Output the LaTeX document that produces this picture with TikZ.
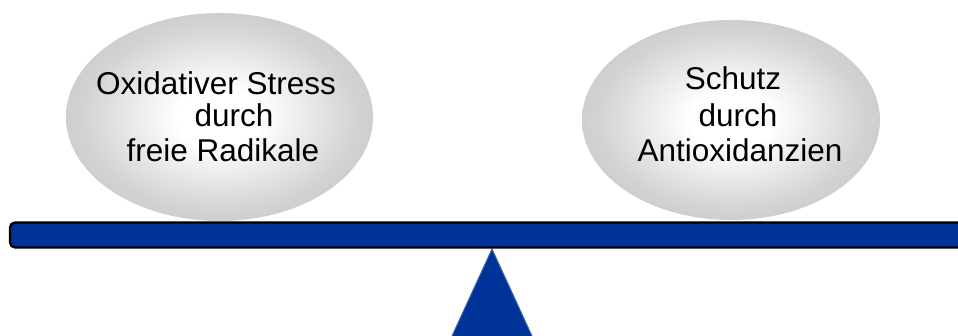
\documentclass[tikz,border=0pt]{standalone}
\usepackage{fontspec}
\setmainfont{Liberation Sans}
\usetikzlibrary{shapes.geometric}
\definecolor{barblue}{HTML}{003399}
\definecolor{triedge}{HTML}{3A6AA8}
\pgfdeclareradialshading{ballgray}{\pgfpoint{0bp}{0bp}}{%
  color(0bp)=(white); color(7bp)=(white); color(22bp)=(black!17); color(36bp)=(black!27); color(50bp)=(black!31); color(60bp)=(black!31)}
\begin{document}
\begin{tikzpicture}[x=1pt,y=-1pt,
  ball/.style={ellipse, shading=ballgray, inner sep=0pt, outer sep=0pt},
  lbl/.style={anchor=base, inner sep=0pt, font=\fontsize{31.5}{33}\selectfont}]
\useasboundingbox (0,0) rectangle (958,336);
\clip (0,0) rectangle (958,336);
\node[ball, minimum width=307pt, minimum height=208pt] (left) at (219.5,117) {};
\node[ball, minimum width=298pt, minimum height=200pt] (right) at (731,120) {};
\node[lbl] (l1) at (216,95) {Oxidativer Stress};
\node[lbl] (l2) at (234,127) {durch};
\node[lbl] (l3) at (223,162) {freie Radikale};
\node[lbl] (r1) at (733,90) {Schutz};
\node[lbl] (r2) at (738,127) {durch};
\node[lbl] (r3) at (740,162) {Antioxidanzien};
\coordinate (apex) at (492,249);
\fill[barblue, draw=triedge, line width=1pt] (apex) -- (561.4,400) -- (422.6,400) -- cycle;
\draw[fill=barblue, draw=black, line width=2.3pt, rounded corners=5pt] (10,222.5) rectangle (990,247.5);
\end{tikzpicture}
\end{document}
